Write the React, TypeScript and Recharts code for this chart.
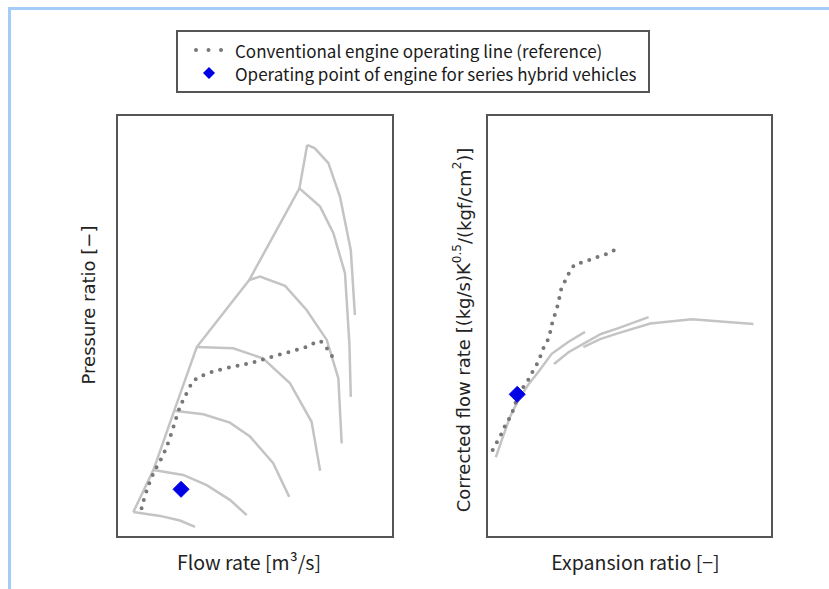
import { ComposedChart, Line, Scatter, XAxis, YAxis, ReferenceArea } from "recharts";

// Compressor map (left) – unitless (0–100 on both axes)
const surgeLine = [
  { x: 5.9, y: 5.9 },
  { x: 13.2, y: 15.9 },
  { x: 20.7, y: 29.9 },
  { x: 28.9, y: 45.0 },
  { x: 47.9, y: 60.9 },
  { x: 66.1, y: 82.6 },
  { x: 68.9, y: 92.9 },
];

const speedLines = [
  [
    { x: 5.9, y: 5.9 },
    { x: 15.6, y: 5.0 },
    { x: 22.8, y: 3.9 },
    { x: 28.3, y: 2.4 },
  ],
  [
    { x: 13.2, y: 15.9 },
    { x: 24.0, y: 14.7 },
    { x: 32.5, y: 12.3 },
    { x: 40.9, y: 8.8 },
    { x: 47.0, y: 5.2 },
  ],
  [
    { x: 20.7, y: 29.9 },
    { x: 31.3, y: 29.1 },
    { x: 40.9, y: 27.1 },
    { x: 48.2, y: 23.8 },
    { x: 56.6, y: 17.5 },
    { x: 62.4, y: 9.5 },
  ],
  [
    { x: 28.9, y: 45.0 },
    { x: 42.1, y: 44.7 },
    { x: 53.0, y: 42.3 },
    { x: 62.7, y: 36.4 },
    { x: 70.5, y: 27.3 },
    { x: 73.6, y: 15.7 },
  ],
  [
    { x: 47.9, y: 60.9 },
    { x: 51.8, y: 61.7 },
    { x: 60.9, y: 59.5 },
    { x: 68.7, y: 53.8 },
    { x: 76.0, y: 46.7 },
    { x: 80.2, y: 37.6 },
    { x: 81.4, y: 22.2 },
  ],
  [
    { x: 66.1, y: 82.6 },
    { x: 73.6, y: 78.3 },
    { x: 78.4, y: 72.0 },
    { x: 82.6, y: 62.5 },
    { x: 84.2, y: 45.9 },
    { x: 84.7, y: 33.2 },
  ],
  [
    { x: 68.9, y: 92.9 },
    { x: 71.7, y: 92.1 },
    { x: 76.6, y: 88.6 },
    { x: 80.8, y: 80.6 },
    { x: 84.7, y: 68.0 },
    { x: 86.2, y: 52.6 },
  ],
];

const compressorReference = [
  { x: 8.9, y: 6.8 },
  { x: 10.8, y: 11.1 },
  { x: 13.8, y: 15.9 },
  { x: 18.0, y: 21.4 },
  { x: 22.2, y: 29.7 },
  { x: 24.6, y: 33.2 },
  { x: 27.1, y: 36.4 },
  { x: 30.1, y: 38.0 },
  { x: 34.9, y: 39.2 },
  { x: 42.1, y: 40.4 },
  { x: 48.2, y: 41.2 },
  { x: 54.2, y: 42.3 },
  { x: 61.5, y: 43.7 },
  { x: 68.7, y: 45.1 },
  { x: 72.4, y: 46.3 },
  { x: 74.7, y: 45.9 },
  { x: 77.2, y: 43.5 },
  { x: 79.3, y: 41.8 },
];

const compressorHybrid = [{ x: 23.2, y: 11.3 }];

// Turbine map (right)
const turbineLines = [
  [
    { x: 3.1, y: 18.9 },
    { x: 5.2, y: 23.0 },
    { x: 8.1, y: 28.5 },
    { x: 11.0, y: 32.5 },
    { x: 14.4, y: 36.0 },
    { x: 18.2, y: 39.3 },
    { x: 22.7, y: 43.4 },
    { x: 28.5, y: 46.2 },
    { x: 34.4, y: 48.6 },
  ],
  [
    { x: 23.5, y: 41.0 },
    { x: 28.6, y: 43.8 },
    { x: 34.4, y: 46.0 },
    { x: 40.0, y: 48.1 },
    { x: 46.1, y: 49.5 },
    { x: 56.7, y: 52.1 },
  ],
  [
    { x: 33.8, y: 45.0 },
    { x: 39.7, y: 46.9 },
    { x: 46.1, y: 48.3 },
    { x: 57.3, y: 50.6 },
    { x: 71.9, y: 51.6 },
    { x: 93.5, y: 50.5 },
  ],
];

const turbineReference = [
  { x: 2.0, y: 20.6 },
  { x: 3.6, y: 22.6 },
  { x: 5.2, y: 24.6 },
  { x: 6.3, y: 26.3 },
  { x: 7.8, y: 28.1 },
  { x: 9.2, y: 30.1 },
  { x: 10.8, y: 33.4 },
  { x: 12.8, y: 35.6 },
  { x: 14.8, y: 37.6 },
  { x: 16.3, y: 39.6 },
  { x: 18.0, y: 41.5 },
  { x: 20.0, y: 45.1 },
  { x: 21.7, y: 47.1 },
  { x: 23.1, y: 51.4 },
  { x: 24.2, y: 53.4 },
  { x: 25.0, y: 55.4 },
  { x: 26.2, y: 59.3 },
  { x: 28.0, y: 61.3 },
  { x: 29.2, y: 63.3 },
  { x: 31.0, y: 64.7 },
  { x: 34.1, y: 65.2 },
  { x: 37.1, y: 65.9 },
  { x: 40.0, y: 66.7 },
  { x: 43.0, y: 67.2 },
  { x: 45.6, y: 68.4 },
];

const turbineHybrid = [{ x: 10.6, y: 33.8 }];

const legendItems = [
  "Conventional engine operating line (reference)",
  "Operating point of engine for series hybrid vehicles",
];

const MAP_GRAY = "#c4c4c4";
const DOT_GRAY = "#777777";
const BLUE = "#0000e6";
const JP_FONT = '"Noto Sans CJK JP", "Noto Sans", sans-serif';
const SANS_FONT = '"DejaVu Sans", sans-serif';

const Diamond = (props: any) => {
  const { cx, cy } = props;
  const r = 8;
  return (
    <polygon
      points={`${cx},${cy - r} ${cx + r},${cy} ${cx},${cy + r} ${cx - r},${cy}`}
      fill={BLUE}
      stroke={BLUE}
      strokeWidth={1}
      strokeLinejoin="round"
    />
  );
};

// axis title placed relative to the axis box
const AxisTitle = (props: any) => {
  const { viewBox, dx = 0, dy = 0, vertical, font, size, children } = props;
  const x = viewBox.x + viewBox.width / 2 + dx;
  const y = viewBox.y + viewBox.height / 2 + dy;
  return (
    <text
      x={x}
      y={y}
      textAnchor="middle"
      dominantBaseline="central"
      fill="#222"
      fontFamily={font}
      fontSize={size}
      transform={vertical ? `rotate(-90 ${x} ${y})` : undefined}
    >
      {children}
    </text>
  );
};

function MapBox() {
  return (
    <ReferenceArea
      x1={0}
      x2={100}
      y1={0}
      y2={100}
      fill="none"
      fillOpacity={0}
      stroke="#555"
      strokeWidth={2}
      ifOverflow="visible"
    />
  );
}

export default function App() {
  return (
    <div style={{ position: "absolute", left: 0, top: 0, width: 829, height: 589, background: "#fff" }}>
      <div style={{ position: "absolute", left: 8, top: 7, width: 821, height: 3, background: "#a3cdf7" }} />
      <div style={{ position: "absolute", left: 8, top: 7, width: 3, height: 582, background: "#a3cdf7" }} />

      {/* Legend */}
      <div
        style={{
          position: "absolute",
          left: 176,
          top: 30,
          width: 474,
          height: 63,
          boxSizing: "border-box",
          border: "2px solid #555",
          fontFamily: JP_FONT,
          fontSize: 17,
          color: "#1a1a1a",
        }}
      >
        <div style={{ position: "absolute", left: 12, top: 6, height: 24, display: "flex", alignItems: "center" }}>
          <svg width={40} height={10}>
            <line x1={6} y1={5} x2={32} y2={5} stroke={DOT_GRAY} strokeWidth={4} strokeLinecap="round" strokeDasharray="0 12.5" />
          </svg>
          <span style={{ marginLeft: 5 }}>{legendItems[0]}</span>
        </div>
        <div style={{ position: "absolute", left: 12, top: 29, height: 24, display: "flex", alignItems: "center" }}>
          <svg width={40} height={16}>
            <polygon points="19,2 25,8 19,14 13,8" fill={BLUE} />
          </svg>
          <span style={{ marginLeft: 5 }}>{legendItems[1]}</span>
        </div>
      </div>

      {/* Compressor map */}
      <div style={{ position: "absolute", left: 60, top: 105 }}>
        <ComposedChart width={345} height={480} margin={{ top: 10, right: 12, bottom: 8, left: 0 }}>
          <XAxis
            type="number"
            dataKey="x"
            domain={[0, 100]}
            tick={false}
            tickLine={false}
            axisLine={false}
            height={40}
            label={<AxisTitle dx={-6} dy={4} font={JP_FONT} size={19.5}>Flow rate [m³/s]</AxisTitle>}
          />
          <YAxis
            type="number"
            dataKey="y"
            domain={[0, 100]}
            tick={false}
            tickLine={false}
            axisLine={false}
            width={57}
            label={<AxisTitle dx={0} dy={-21} vertical font={SANS_FONT} size={18}>Pressure ratio [−]</AxisTitle>}
          />
          <MapBox />
          <Line data={surgeLine} dataKey="y" type="linear" stroke={MAP_GRAY} strokeWidth={2.5} dot={false} isAnimationActive={false} />
          {speedLines.map((line, i) => (
            <Line
              key={`speed-${i}`}
              data={line}
              dataKey="y"
              type="linear"
              stroke={MAP_GRAY}
              strokeWidth={2.5}
              dot={false}
              isAnimationActive={false}
            />
          ))}
          <Line
            data={compressorReference}
            dataKey="y"
            type="natural"
            stroke={DOT_GRAY}
            strokeWidth={4}
            strokeLinecap="round"
            strokeDasharray="0 8.8"
            dot={false}
            isAnimationActive={false}
          />
          <Scatter data={compressorHybrid} dataKey="y" shape={<Diamond />} isAnimationActive={false} />
        </ComposedChart>
      </div>

      {/* Turbine map */}
      <div style={{ position: "absolute", left: 440, top: 105 }}>
        <ComposedChart width={345} height={480} margin={{ top: 10, right: 13, bottom: 8, left: 0 }}>
          <XAxis
            type="number"
            dataKey="x"
            domain={[0, 100]}
            tick={false}
            tickLine={false}
            axisLine={false}
            height={40}
            label={<AxisTitle dx={6} dy={4} font={JP_FONT} size={19.5}>Expansion ratio [−]</AxisTitle>}
          />
          <YAxis
            type="number"
            dataKey="y"
            domain={[0, 100]}
            tick={false}
            tickLine={false}
            axisLine={false}
            width={47}
            label={
              <AxisTitle dx={0} dy={4} vertical font={SANS_FONT} size={18}>
                Corrected flow rate [(kg/s)K
                <tspan dy={-7} fontSize={12}>0.5</tspan>
                <tspan dy={7}>/(kgf/cm</tspan>
                <tspan dy={-7} fontSize={12}>2</tspan>
                <tspan dy={7}>)]</tspan>
              </AxisTitle>
            }
          />
          <MapBox />
          {turbineLines.map((line, i) => (
            <Line
              key={`turb-${i}`}
              data={line}
              dataKey="y"
              type="linear"
              stroke={MAP_GRAY}
              strokeWidth={2.5}
              dot={false}
              isAnimationActive={false}
            />
          ))}
          <Line
            data={turbineReference}
            dataKey="y"
            type="linear"
            stroke={DOT_GRAY}
            strokeWidth={4}
            strokeLinecap="round"
            strokeDasharray="0 8.8"
            dot={false}
            isAnimationActive={false}
          />
          <Scatter data={turbineHybrid} dataKey="y" shape={<Diamond />} isAnimationActive={false} />
        </ComposedChart>
      </div>
    </div>
  );
}
